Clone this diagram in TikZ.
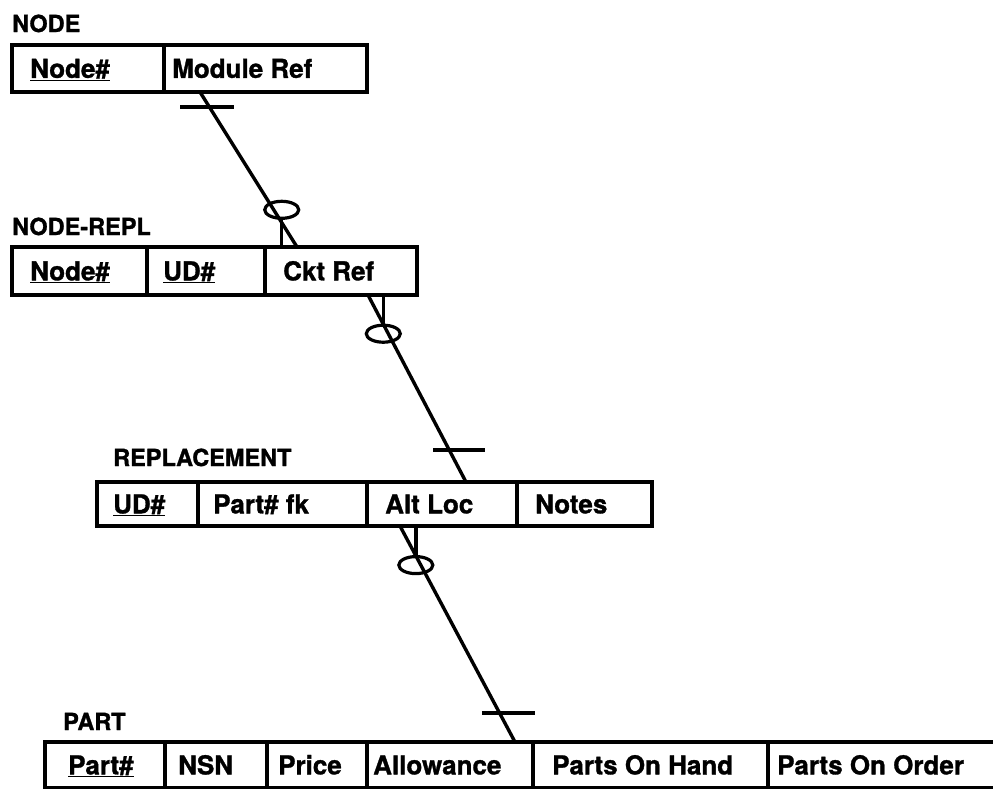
\documentclass[tikz,border=0pt]{standalone}
\usepackage{fontspec}
\setmainfont{TeX Gyre Heros}[BoldFeatures={FakeBold=1.2}]
\usetikzlibrary{shapes.geometric}
\def\field(#1)(#2,#3)(#4:#5:#6)#7{%
	\node[fld, minimum width=#4pt, minimum height=#5pt] (#1) at (#2,#3) {};
	\node[fldtext] (#1t) at ([xshift=#6pt]#1.west) {#7};}
\def\crosstick(#1)(#2:#3){\draw[crow, line width=3.6pt] ([xshift=-#2pt]#1) -- ([xshift=#3pt]#1);}
\tikzset{
	fld/.style={draw, line width=3.3pt, anchor=north west, inner sep=0pt, outer sep=0pt},
	fldtext/.style={anchor=west, inner sep=0pt, text height=18.7pt, text depth=0pt, font=\fontsize{26}{30}\selectfont\bfseries},
	title/.style={anchor=base west, inner sep=0pt, font=\fontsize{23.5}{28}\selectfont\bfseries},
	crow/.style={line width=3.4pt},
	ring/.style={draw, ellipse, line width=3.2pt, inner sep=0pt, minimum width=34pt, minimum height=17pt}
}

\begin{document}
\begin{tikzpicture}[x=1pt,y=-1pt]
		%%%%% START %%%%%
		\clip (0,0) rectangle (993,788);
		
		\node[title] (tnode) at (12,32) {NODE};
		\node[title] (tnrepl) at (12,235) {NODE-REPL};
		\node[title] (trepl) at (113,466) {REPLACEMENT};
		\node[title] (tpart) at (63,730) {PART};
		
		\field(nkey)(12,45)(152:47:18){\underline{Node\#}}
		\field(nmod)(164,45)(203:47:8){Module Ref}
		
		\field(rkey)(12,247)(135:48:18){\underline{Node\#}}
		\field(rud)(147,247)(118:48:16){\underline{UD\#}}
		\field(rckt)(265,247)(152:48:18){Ckt Ref}
		
		\field(pud)(97,482)(101:44:16){\underline{UD\#}}
		\field(ppart)(198,482)(169:44:15){Part\# fk}
		\field(palt)(367,482)(150:44:18){Alt Loc}
		\field(pnotes)(517,482)(135:44:18){Notes}
		
		\field(tkey)(45,742)(120:46:23){\underline{Part\#}}
		\field(tnsn)(165,742)(102:46:13){NSN}
		\field(tprice)(267,742)(100:46:11){Price}
		\field(tallow)(367,742)(166:46:6){Allowance}
		\field(thand)(533,742)(235:46:19){Parts On Hand}
		\field(torder)(768,742)(250:46:9){Parts On Order}
		
		% NODE -- NODE-REPL
		\coordinate (a1) at ([xshift=36pt]nmod.south west);
		\coordinate (b1) at ([xshift=32pt]rckt.north west);
		\draw[crow] (a1) -- coordinate[pos=0.097] (k1) coordinate[pos=0.76] (m1) (b1);
		\crosstick(k1)(29:25)
		\node[ring] (o1) at ([xshift=8pt]m1) {};
		\draw[crow] (o1.south) -- (o1.south |- b1);
		
		% NODE-REPL -- REPLACEMENT
		\coordinate (a2) at ([xshift=103pt]rckt.south west);
		\coordinate (b2) at ([xshift=99pt]palt.north west);
		\draw[crow] (a2) -- coordinate[pos=0.207] (m2) coordinate[pos=0.83] (k2) (b2);
		\node[ring] (o2) at ([xshift=-5pt]m2) {};
		\draw[crow] (o2.north) -- (o2.north |- a2);
		\crosstick(k2)(16:36)
		
		% REPLACEMENT -- PART
		\coordinate (a3) at ([xshift=33pt]palt.south west);
		\coordinate (b3) at ([xshift=148pt]tallow.north west);
		\draw[crow] (a3) -- coordinate[pos=0.181] (m3) coordinate[pos=0.865] (k3) (b3);
		\node[ring] (o3) at ([xshift=-5pt]m3) {};
		\draw[crow] (o3.north) -- (o3.north |- a3);
		\crosstick(k3)(17.5:35.5)
		%%%%% END %%%%%
\end{tikzpicture}
\end{document}
